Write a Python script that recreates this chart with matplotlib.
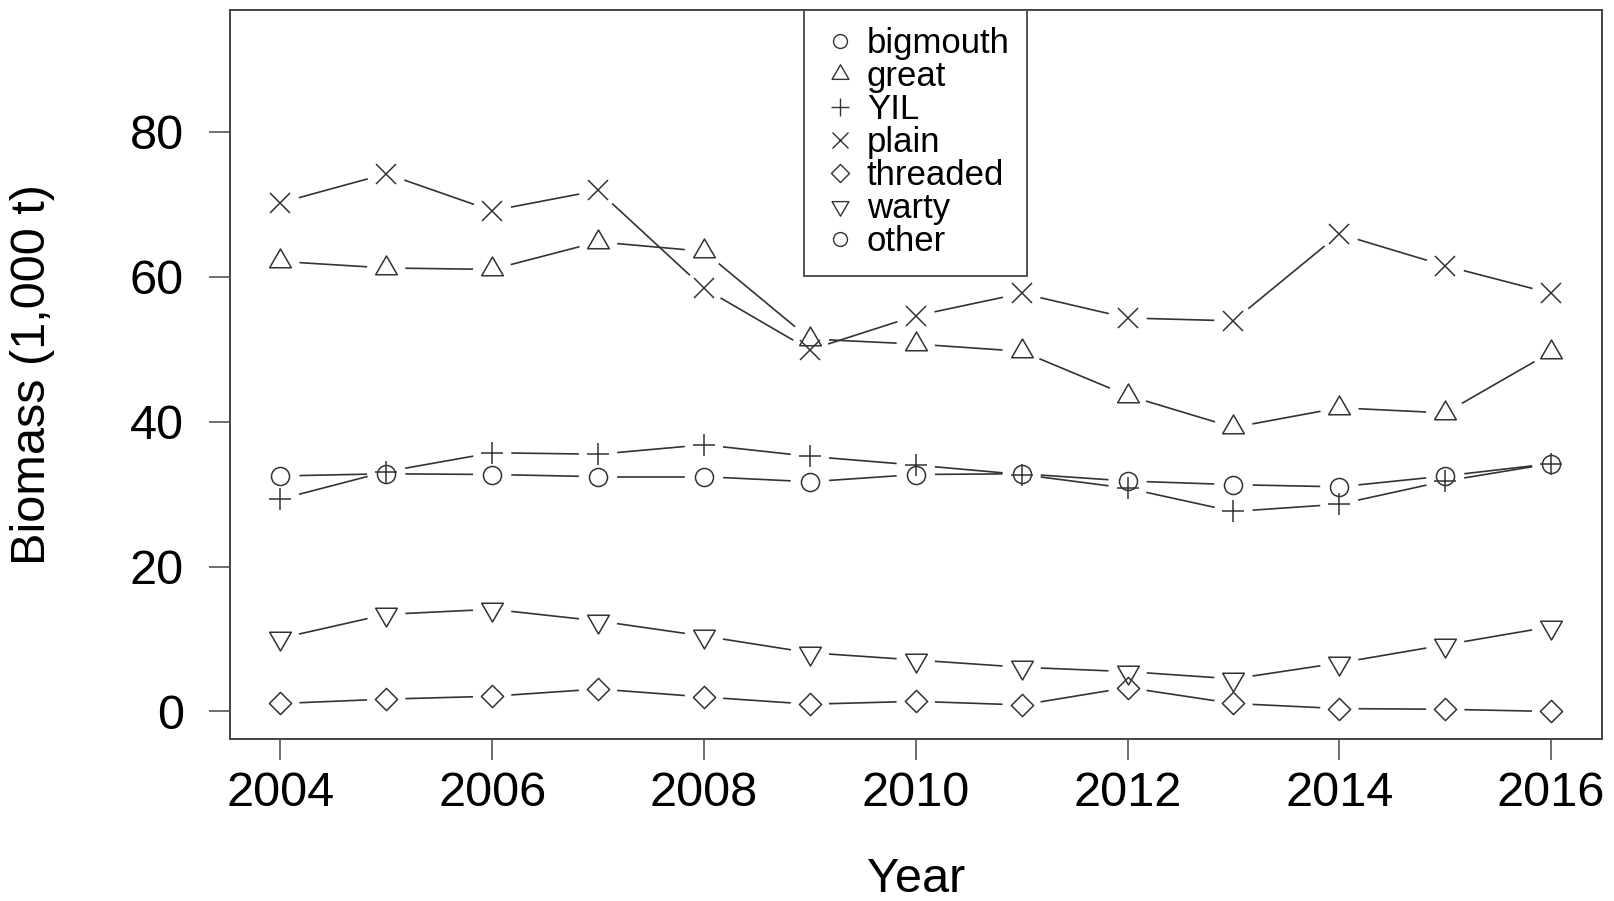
import numpy as np
import matplotlib
matplotlib.use("Agg")
import matplotlib.pyplot as plt
from matplotlib.path import Path
from matplotlib.lines import Line2D

plt.rcParams['font.family'] = ['Liberation Sans', 'DejaVu Sans']

years = [2004, 2005, 2006, 2007, 2008, 2009, 2010, 2011, 2012, 2013, 2014, 2015, 2016]
bigmouth = [32.5, 32.8, 32.7, 32.4, 32.4, 31.7, 32.7, 32.8, 31.8, 31.3, 31.0, 32.5, 34.2]
great = [62.1, 61.2, 61.0, 64.8, 63.5, 51.4, 50.7, 49.7, 43.6, 39.2, 41.9, 41.2, 49.6]
yil = [29.3, 33.1, 35.7, 35.5, 36.8, 35.2, 34.0, 32.7, 30.8, 27.6, 28.6, 31.8, 34.2]
plain = [70.2, 74.2, 69.1, 71.9, 58.4, 49.9, 54.6, 57.7, 54.3, 53.9, 65.9, 61.5, 57.7]
threaded = [1.1, 1.7, 2.1, 3.1, 2.0, 1.0, 1.4, 0.9, 3.3, 1.1, 0.4, 0.3, 0.0]
warty = [10.1, 13.4, 14.1, 12.5, 10.4, 8.1, 7.1, 6.1, 5.5, 4.5, 6.7, 9.2, 11.7]
legend_labels = ['bigmouth', 'great', 'YIL', 'plain', 'threaded', 'warty', 'other']


def closed(verts):
    return Path(verts + [verts[0]], closed=True)


tri_up = closed([(0, 1), (-0.866, -0.5), (0.866, -0.5)])
tri_dn = closed([(0, -1), (0.866, 0.5), (-0.866, 0.5)])
diamond = closed([(0, 1), (1, 0), (0, -1), (-1, 0)])

ink = '#333333'

fig = plt.figure(figsize=(16.14, 9.01), dpi=100)
ax = fig.add_axes([229.5 / 1614, (901 - 739) / 901, (1602 - 229.5) / 1614, (739 - 10) / 901])
ax.set_xlim(2003.52, 2016.48)
ax.set_ylim(-3.8, 96.8)


def gapped(xs, ys, gap_px=20):
    # R type="b": line segments stop short of each point
    pts = ax.transData.transform(np.column_stack([xs, ys]))
    inv = ax.transData.inverted()
    for p0, p1 in zip(pts[:-1], pts[1:]):
        d = p1 - p0
        L = np.hypot(*d)
        if L <= 2 * gap_px:
            continue
        u = d / L
        a = inv.transform(p0 + u * gap_px)
        b = inv.transform(p1 - u * gap_px)
        ax.plot([a[0], b[0]], [a[1], b[1]], color=ink, lw=1.2)


series = [
    (bigmouth, 'o', 13),
    (great, tri_up, 18),
    (yil, '+', 16.5),
    (plain, 'x', 14),
    (threaded, diamond, 16),
    (warty, tri_dn, 18),
]
for vals, mk, ms in series:
    gapped(years, vals)
    ax.plot(years, vals, linestyle='none', marker=mk, markersize=ms,
            markerfacecolor='none', markeredgecolor=ink, markeredgewidth=1.1)

handles = [
    Line2D([], [], linestyle='none', marker='o', markersize=10),
    Line2D([], [], linestyle='none', marker=tri_up, markersize=14),
    Line2D([], [], linestyle='none', marker='+', markersize=13),
    Line2D([], [], linestyle='none', marker='x', markersize=11),
    Line2D([], [], linestyle='none', marker=diamond, markersize=13),
    Line2D([], [], linestyle='none', marker=tri_dn, markersize=14),
    Line2D([], [], linestyle='none', marker='o', markersize=10),
]
for h in handles:
    h.set_markerfacecolor('none')
    h.set_markeredgecolor(ink)
    h.set_markeredgewidth(1.0)

leg = ax.legend(handles, legend_labels, loc='upper center', bbox_to_anchor=(0.5, 1.0),
                borderaxespad=0, fancybox=False, framealpha=1, edgecolor='#444444',
                fontsize=25, labelspacing=0.0, handlelength=1.04, handletextpad=0.26,
                borderpad=0.5)
leg.get_frame().set_linewidth(1.3)

ax.set_xticks(range(2004, 2017, 2))
ax.set_yticks([0, 20, 40, 60, 80])
ax.tick_params(axis='both', direction='out', length=15, width=1.2, color='#555555',
               labelsize=35)
ax.tick_params(axis='x', pad=8)
ax.tick_params(axis='y', pad=18)
for s in ax.spines.values():
    s.set_color('#444444')
    s.set_linewidth(1.4)

ax.set_xlabel('Year', fontsize=35)
ax.xaxis.label.set_va('center')
ax.xaxis.set_label_coords(0.5, (739 - 880) / 729)
ax.set_ylabel('Biomass (1,000 t)', fontsize=35)
ax.yaxis.label.set_va('center')
ax.yaxis.set_label_coords((32 - 229.5) / 1372.5, 0.5)

fig.savefig('out.png', dpi=100)
